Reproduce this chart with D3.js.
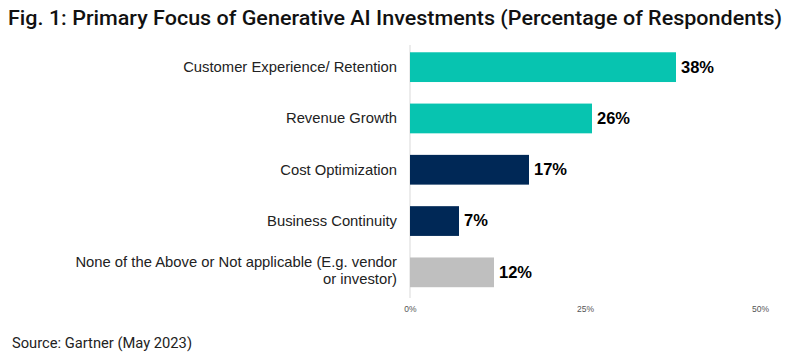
<!DOCTYPE html>
<html><head><meta charset="utf-8">
<script src="https://cdn.jsdelivr.net/npm/d3@7"></script>
<style>body{margin:0;background:#fff}svg{display:block}</style>
</head><body>
<svg id="c" width="804" height="359"></svg>
<script>
const categories = ["Customer Experience/ Retention", "Revenue Growth", "Cost Optimization", "Business Continuity", "None of the Above or Not applicable (E.g. vendor|or investor)"];
const values = [38, 26, 17, 7, 12];
const barColors = ["#07c4b0", "#07c4b0", "#002856", "#002856", "#bfbfbf"];
const tickValues = [0, 25, 50];
const titleText = "Fig. 1: Primary Focus of Generative AI Investments (Percentage of Respondents)";
const sourceText = "Source: Gartner (May 2023)";

const svg = d3.select("#c");
const x = d3.scaleLinear().domain([0, 50]).range([410, 760]);
const y = d3.scaleBand().domain(categories).range([41.5, 298]).paddingInner(0.42).paddingOuter(0.21);

// title
const t = svg.append("text").attr("x", 8).attr("y", 25).text(titleText)
  .attr("font-family", "Roboto, 'Liberation Sans', sans-serif").attr("font-weight", 500)
  .attr("font-size", 20.5).attr("fill", "#111");
t.attr("textLength", 774).attr("lengthAdjust", "spacingAndGlyphs");

// axis line
svg.append("line").attr("x1", x(0)).attr("x2", x(0)).attr("y1", 45).attr("y2", 298)
  .attr("stroke", "#e6e6e6").attr("stroke-width", 1.5);

// bars
svg.selectAll("rect.bar").data(categories).join("rect").attr("class", "bar")
  .attr("x", x(0)).attr("y", d => y(d)).attr("height", y.bandwidth())
  .attr("width", (d, i) => x(values[i]) - x(0)).attr("fill", (d, i) => barColors[i]);

// value labels
svg.selectAll("text.val").data(categories).join("text").attr("class", "val")
  .attr("x", (d, i) => x(values[i]) + 5).attr("y", d => y(d) + y.bandwidth() / 2 + 1)
  .attr("dominant-baseline", "middle")
  .attr("font-family", "'Liberation Sans', Arial, sans-serif").attr("font-weight", 700)
  .attr("font-size", 16.5).attr("fill", "#000").text((d, i) => values[i] + "%");

// category labels
svg.selectAll("text.cat").data(categories).join("text").attr("class", "cat")
  .attr("text-anchor", "end").attr("font-family", "'Liberation Sans', Arial, sans-serif")
  .attr("font-size", 14.8).attr("fill", "#222")
  .each(function (d) {
    const lines = d.split("|");
    const cy = y(d) + y.bandwidth() / 2;
    const el = d3.select(this);
    lines.forEach((ln, k) => {
      el.append("tspan").attr("x", 397).attr("y", cy + 5 + (k - (lines.length - 1) / 2) * 17 - (lines.length > 1 ? 2 : 0)).text(ln);
    });
  });

// x axis tick labels
const ax = svg.append("g").attr("transform", "translate(0,306)")
  .call(d3.axisBottom(x).tickValues(tickValues).tickFormat(d => d + "%").tickSize(0));
ax.select(".domain").remove();
ax.selectAll("text").attr("font-family", "'Liberation Sans', Arial, sans-serif")
  .attr("font-size", 8.5).attr("fill", "#555").attr("dy", 0).attr("y", 6);

// source
svg.append("text").attr("x", 12).attr("y", 348).text(sourceText)
  .attr("font-family", "Roboto, 'Liberation Sans', sans-serif").attr("font-size", 14)
  .attr("fill", "#222").attr("textLength", 180).attr("lengthAdjust", "spacingAndGlyphs");
</script>
</body></html>
